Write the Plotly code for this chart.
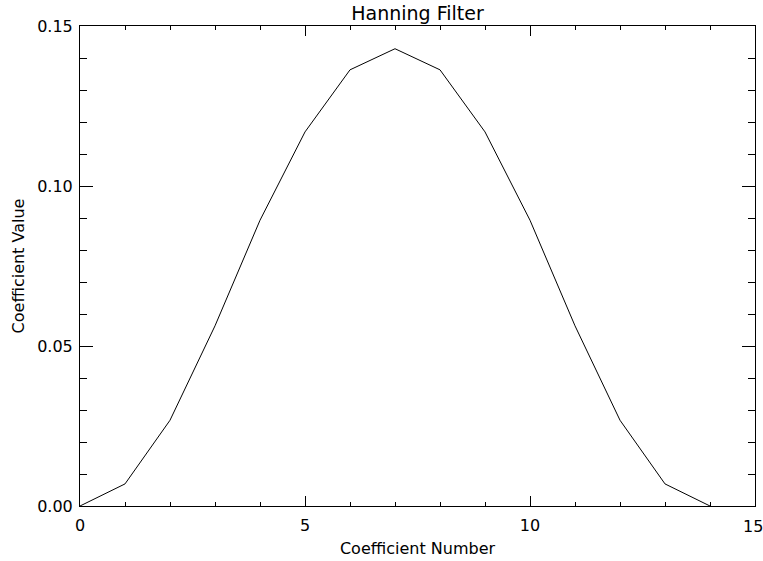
import plotly.graph_objects as go

coef_number = list(range(15))
coef_value = [0.0, 0.0069, 0.0268, 0.0563, 0.0893, 0.1169, 0.1363, 0.1429,
              0.1363, 0.1169, 0.0893, 0.0563, 0.0268, 0.0069, 0.0]
x_tickvals = [0, 5, 10, 15]
x_ticktext = ["0", "5", "10", "15"]
y_tickvals = [0, 0.05, 0.10, 0.15]
y_ticktext = ["0.00", "0.05", "0.10", "0.15"]

FAM = "DejaVu Sans"

fig = go.Figure(go.Scatter(x=coef_number, y=coef_value, mode="lines",
                           line=dict(color="black", width=1)))

# last x tick label drawn as annotation so it stays inside the page
fig.add_annotation(x=x_tickvals[-1], y=0, xref="x", yref="paper",
                   text=x_ticktext[-1], showarrow=False,
                   xanchor="center", yanchor="top", xshift=-2, yshift=-9,
                   font=dict(family=FAM, size=16, color="black"))

fig.update_layout(
    width=763, height=561,
    margin=dict(l=80, r=8, t=26, b=55, autoexpand=False),
    paper_bgcolor="white", plot_bgcolor="white",
    showlegend=False,
    font=dict(family=FAM, size=14, color="black"),
    title=dict(text="Hanning Filter", x=0.5, xref="paper", xanchor="center",
               y=1, yref="paper", yanchor="bottom", pad=dict(b=6),
               font=dict(family=FAM, size=19, color="black")),
)
fig.update_xaxes(
    range=[0, 15], tickmode="array", tickvals=x_tickvals,
    ticktext=x_ticktext[:-1] + [""],
    tickfont=dict(family=FAM, size=16, color="black"),
    automargin=False,
    ticks="inside", ticklen=10, tickwidth=1, tickcolor="black",
    minor=dict(dtick=1, ticks="inside", ticklen=4, tickwidth=1, tickcolor="black", showgrid=False),
    showline=True, linecolor="black", linewidth=1, mirror="ticks",
    showgrid=False, zeroline=False,
    title=dict(text="Coefficient Number", standoff=8,
               font=dict(family=FAM, size=16, color="black")),
    ticklabelstandoff=5,
)
fig.update_yaxes(
    range=[0, 0.15], tickmode="array", tickvals=y_tickvals,
    ticktext=y_ticktext,
    tickfont=dict(family=FAM, size=16, color="black"),
    automargin=False,
    ticks="inside", ticklen=13, tickwidth=1, tickcolor="black",
    minor=dict(dtick=0.01, ticks="inside", ticklen=7, tickwidth=1, tickcolor="black", showgrid=False),
    showline=True, linecolor="black", linewidth=1, mirror="ticks",
    showgrid=False, zeroline=False,
    title=dict(text="Coefficient Value", standoff=8,
               font=dict(family=FAM, size=16, color="black")),
    ticklabelstandoff=3,
)

fig.write_html("out.html")
